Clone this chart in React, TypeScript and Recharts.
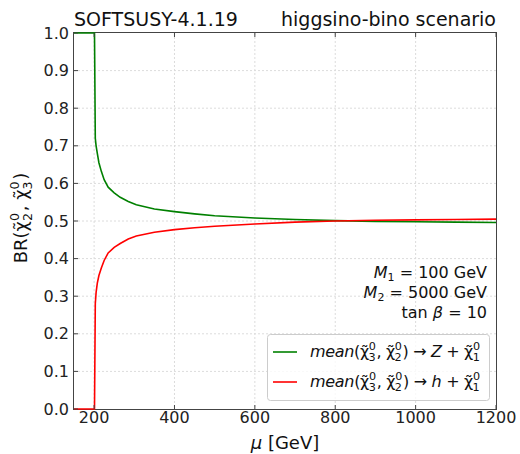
import React from "react";
import { CartesianGrid, Line, LineChart, XAxis, YAxis } from "recharts";

// mu scan [GeV] and the two averaged branching ratios of chi3/chi2
const muValues = [150, 201, 203, 205, 208, 212, 218, 225, 235, 250, 265, 285, 305, 350, 400, 450, 500, 600, 700, 800, 900, 1000, 1100, 1200];
const brZ = [1, 1, 0.72, 0.7, 0.68, 0.655, 0.632, 0.61, 0.59, 0.575, 0.563, 0.552, 0.543, 0.532, 0.525, 0.519, 0.514, 0.508, 0.504, 0.501, 0.499, 0.498, 0.497, 0.496];
const brH = [0, 0, 0.28, 0.31, 0.335, 0.355, 0.375, 0.395, 0.415, 0.43, 0.44, 0.452, 0.46, 0.47, 0.477, 0.482, 0.486, 0.492, 0.497, 0.5, 0.502, 0.503, 0.504, 0.505];

const xTicks = [200, 400, 600, 800, 1000, 1200];
const yTicks = [0, 0.1, 0.2, 0.3, 0.4, 0.5, 0.6, 0.7, 0.8, 0.9, 1.0];
// grid lines inside the frame only
const xGrid = [200, 400, 600, 800, 1000];
const yGrid = [0.1, 0.2, 0.3, 0.4, 0.5, 0.6, 0.7, 0.8, 0.9];

const data = muValues.map((mu, i) => ({ mu, z: brZ[i], h: brH[i] }));

const FONT = "DejaVu Sans";
const noLabel = () => <g />;

// chi-tilde with stacked superscript 0 and subscript n
function chi(n: string, size: number, key: string) {
  const s = size * 0.7;
  return [
    <tspan key={key + "a"}>χ̃</tspan>,
    <tspan key={key + "b"} fontSize={s} dy={-size * 0.42}>0</tspan>,
    <tspan key={key + "c"} fontSize={s} dx={-s * 0.64} dy={size * 0.7}>{n}</tspan>,
    <tspan key={key + "d"} dy={-size * 0.28}>{"\u200a"}</tspan>,
  ];
}

function legendText(particle: string, size: number) {
  return [
    <tspan key="m" fontStyle="italic">mean</tspan>,
    <tspan key="p">(</tspan>,
    ...chi("3", size, "c3"),
    <tspan key="cm">, </tspan>,
    ...chi("2", size, "c2"),
    <tspan key="q">) → </tspan>,
    <tspan key="z" fontStyle="italic">{particle}</tspan>,
    <tspan key="pl"> + </tspan>,
    ...chi("1", size, "c1"),
  ];
}

export default function App() {
  return (
    <div style={{ position: "absolute", left: 0, top: 0, width: 520, height: 454, background: "#fff" }}>
      <svg width={520} height={454} style={{ position: "absolute", left: 0, top: 0 }}>
        <rect x={73.5} y={32.5} width={423} height={377} fill="none" stroke="#444" strokeWidth={1} />
      </svg>
      <LineChart
        width={520}
        height={454}
        data={data}
        margin={{ top: 32, right: 23, bottom: 15, left: 24 }}
      >
        <CartesianGrid
          xAxisId="bottom"
          yAxisId="left"
          stroke="#dcdcdc"
          strokeDasharray="2 2"
          verticalValues={xGrid}
          horizontalValues={yGrid}
        />
        <XAxis
          xAxisId="bottom"
          dataKey="mu"
          type="number"
          domain={[150, 1200]}
          ticks={xTicks}
          height={30}
          tickSize={-4}
          tickMargin={7}
          axisLine={false}
          stroke="#444"
          tick={{ fill: "#222", fontSize: 16, fontFamily: FONT }}
        />
        <XAxis
          xAxisId="top"
          orientation="top"
          dataKey="mu"
          type="number"
          domain={[150, 1200]}
          ticks={xTicks}
          height={1}
          tickSize={-4}
          axisLine={false}
          stroke="#444"
          tick={noLabel}
        />
        <YAxis
          yAxisId="left"
          type="number"
          domain={[0, 1]}
          ticks={yTicks}
          width={50}
          tickSize={-4}
          tickMargin={9}
          axisLine={false}
          stroke="#444"
          tickFormatter={(v: number) => v.toFixed(1)}
          tick={{ fill: "#222", fontSize: 16, fontFamily: FONT }}
        />
        <YAxis
          yAxisId="right"
          orientation="right"
          type="number"
          domain={[0, 1]}
          ticks={yTicks}
          width={1}
          tickSize={-4}
          axisLine={false}
          stroke="#444"
          tick={noLabel}
        />
        <Line xAxisId="bottom" yAxisId="left" dataKey="z" type="linear" stroke="#008000" strokeWidth={1.6} dot={false} isAnimationActive={false} />
        <Line xAxisId="bottom" yAxisId="left" dataKey="h" type="linear" stroke="#ff0000" strokeWidth={1.6} dot={false} isAnimationActive={false} />
      </LineChart>
      <svg
        width={520}
        height={454}
        style={{ position: "absolute", left: 0, top: 0, pointerEvents: "none" }}
        fontFamily={FONT}
        fill="#111"
      >
        <text x={74} y={26} fontSize={19}>SOFTSUSY-4.1.19</text>
        <text x={496} y={26} fontSize={19} textAnchor="end">higgsino-bino scenario</text>

        <text x={285} y={449} fontSize={18} textAnchor="middle">
          <tspan fontStyle="italic">μ</tspan> [GeV]
        </text>
        <text transform="translate(27,218) rotate(-90)" fontSize={18} textAnchor="middle">
          BR(
          {chi("2", 18, "y2")}
          <tspan>, </tspan>
          {chi("3", 18, "y3")}
          <tspan>)</tspan>
        </text>

        <text x={487} y={278} fontSize={16} textAnchor="end">
          <tspan fontStyle="italic">M</tspan>
          <tspan fontSize={11} dy={3}>1</tspan>
          <tspan dy={-3}> = 100 GeV</tspan>
        </text>
        <text x={487} y={298} fontSize={16} textAnchor="end">
          <tspan fontStyle="italic">M</tspan>
          <tspan fontSize={11} dy={3}>2</tspan>
          <tspan dy={-3}> = 5000 GeV</tspan>
        </text>
        <text x={487} y={318} fontSize={16} textAnchor="end">
          tan <tspan fontStyle="italic">β</tspan> = 10
        </text>

        <rect x={267.5} y={334.5} width={222} height={66} rx={3} fill="#fff" fillOpacity={0.8} stroke="#cccccc" />
        <line x1={273} x2={297} y1={352} y2={352} stroke="#008000" strokeWidth={1.6} />
        <line x1={273} x2={297} y1={382} y2={382} stroke="#ff0000" strokeWidth={1.6} />
        <text x={310} y={357} fontSize={16} textLength={171}>{legendText("Z", 16)}</text>
        <text x={310} y={387} fontSize={16} textLength={171}>{legendText("h", 16)}</text>
      </svg>
    </div>
  );
}
